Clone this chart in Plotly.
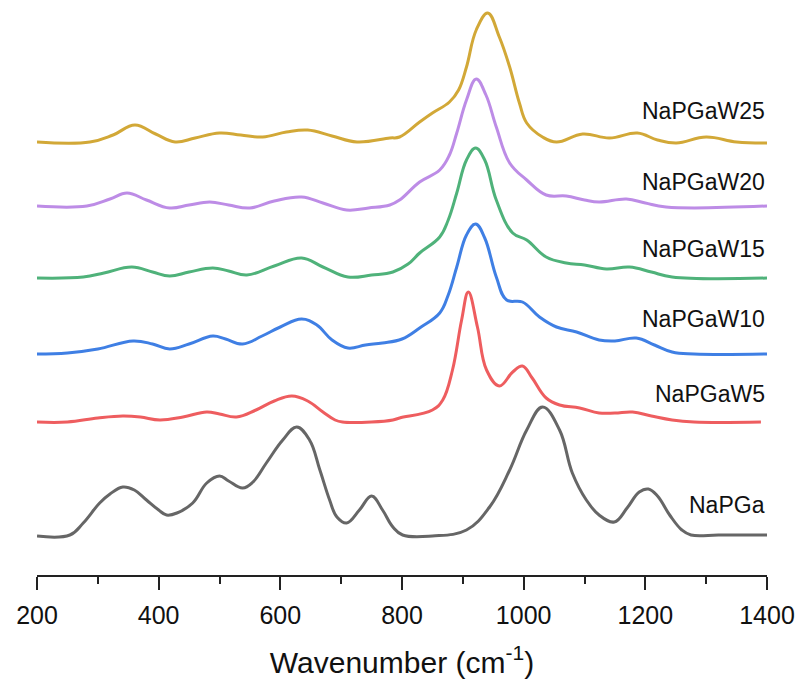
import plotly.graph_objects as go

# ---- data (wavenumber, intensity in a.u. relative to each trace baseline) ----
names = ["NaPGa", "NaPGaW5", "NaPGaW10", "NaPGaW15", "NaPGaW20", "NaPGaW25"]
colors = ["#666666", "#EE5D5F", "#3F7FE4", "#4FB27A", "#BD8CE6", "#D2A837"]
offsets = [40, 153, 221, 297, 369, 433]
baseline_px = [535, 422, 354, 278, 206, 142]

gray_wn = [200, 254, 276, 303, 320, 341, 360, 380, 400, 413, 430, 456, 479, 500, 515, 538, 555, 577, 604, 627, 648, 665, 681, 693, 709, 730, 750, 768, 785, 801, 850, 906, 944, 977, 1005, 1031, 1059, 1080, 1103, 1124, 1149, 1170, 1190, 1205, 1220, 1240, 1260, 1275, 1320, 1360, 1400]
gray_px = [536, 535, 523, 503, 494, 487, 490, 500, 510, 515, 513, 503, 483, 476, 481, 488, 482, 463, 440, 427, 440, 470, 500, 517, 523, 510, 496, 510, 527, 535, 536, 530, 507, 470, 430, 407, 430, 473, 500, 515, 522, 508, 492, 489, 496, 515, 530, 535, 535, 535, 535]

red_wn = [200, 250, 300, 341, 370, 402, 440, 479, 500, 528, 560, 590, 619, 645, 670, 690, 702, 750, 785, 796, 850, 867, 883, 898, 909, 924, 939, 960, 982, 998, 1014, 1037, 1059, 1092, 1124, 1150, 1179, 1210, 1244, 1280, 1390]
red_px = [422, 422, 418, 416, 417, 420, 417, 412, 414, 417, 410, 401, 396, 401, 412, 420, 422, 422, 420, 418, 410, 400, 370, 320, 292, 327, 370, 386, 372, 366, 378, 398, 405, 408, 413, 413, 412, 416, 420, 422, 422]

blue_wn = [200, 250, 300, 358, 390, 418, 450, 489, 510, 538, 570, 600, 635, 660, 685, 711, 740, 768, 800, 829, 862, 876, 890, 906, 921, 936, 955, 972, 998, 1026, 1054, 1087, 1124, 1150, 1185, 1215, 1244, 1280, 1400]
blue_px = [354, 353, 349, 341, 344, 349, 344, 336, 339, 344, 336, 327, 319, 325, 340, 348, 345, 343, 339, 328, 313, 295, 267, 235, 224, 238, 277, 300, 302, 317, 327, 332, 340, 341, 338, 345, 352, 354, 354]

green_wn = [200, 276, 310, 356, 390, 418, 450, 489, 515, 545, 590, 635, 670, 711, 750, 785, 810, 829, 862, 876, 890, 906, 921, 936, 955, 982, 1005, 1037, 1070, 1100, 1136, 1174, 1210, 1244, 1400]
green_px = [278, 277, 273, 267, 272, 276, 272, 268, 271, 275, 266, 258, 267, 277, 275, 272, 264, 253, 237, 220, 193, 160, 148, 160, 200, 233, 240, 257, 263, 265, 269, 267, 272, 277, 278]

purple_wn = [200, 282, 320, 348, 380, 418, 450, 484, 515, 550, 590, 635, 670, 709, 745, 780, 796, 829, 862, 878, 890, 906, 922, 938, 955, 977, 1005, 1037, 1070, 1100, 1124, 1169, 1200, 1234, 1400]
purple_px = [206, 206, 199, 193, 200, 208, 205, 202, 205, 208, 201, 197, 203, 210, 208, 205, 200, 182, 170, 155, 133, 100, 79, 95, 127, 163, 180, 195, 196, 200, 202, 199, 203, 207, 206]

gold_wn = [200, 287, 325, 361, 395, 427, 460, 500, 535, 571, 610, 645, 685, 726, 780, 796, 829, 850, 878, 893, 906, 922, 941, 960, 977, 993, 1005, 1031, 1054, 1097, 1141, 1187, 1220, 1251, 1300, 1350, 1400]
gold_px = [142, 142, 135, 125, 134, 142, 138, 133, 135, 137, 132, 130, 136, 142, 138, 137, 122, 113, 102, 90, 67, 30, 13, 37, 67, 103, 123, 137, 142, 134, 138, 133, 140, 143, 137, 142, 143]

all_wn = [gray_wn, red_wn, blue_wn, green_wn, purple_wn, gold_wn]
all_px = [gray_px, red_px, blue_px, green_px, purple_px, gold_px]

tick_vals = [200, 400, 600, 800, 1000, 1200, 1400]
label_y = [70, 181, 256, 326, 393, 464]

fig = go.Figure()
for name, col, off, base, wn, px in zip(names, colors, offsets, baseline_px, all_wn, all_px):
    inten = [base - p for p in px]
    fig.add_trace(go.Scatter(
        x=wn, y=[v + off for v in inten], mode="lines", name=name,
        line=dict(color=col, width=3, shape="spline", smoothing=1.15),
        showlegend=False))

for name, ly in zip(names, label_y):
    fig.add_annotation(x=1400, y=ly, xref="x", yref="y", text=name,
                       showarrow=False, xanchor="right", yanchor="middle",
                       font=dict(family="Arial, Liberation Sans", size=23, color="#111111"))

fig.update_layout(
    width=803, height=683,
    margin=dict(l=37, r=36, t=0, b=108),
    paper_bgcolor="white", plot_bgcolor="white",
    xaxis=dict(range=[200, 1400], tickvals=tick_vals, showline=True, linecolor="#222222",
               linewidth=2, ticks="outside", ticklen=13, tickwidth=1.5, tickcolor="#222222",
               ticklabelstandoff=4,
               minor=dict(dtick=100, tick0=200, ticks="outside", ticklen=7, tickwidth=1.5, tickcolor="#222222"),
               showgrid=False, zeroline=False,
               tickfont=dict(family="Arial, Liberation Sans", size=25, color="#111111"),
               title=dict(text="Wavenumber (cm<sup>-1</sup>)", standoff=24,
                          font=dict(family="Arial, Liberation Sans", size=30, color="#111111"))),
    yaxis=dict(range=[0, 575], visible=False),
)
fig.write_html("out.html")
